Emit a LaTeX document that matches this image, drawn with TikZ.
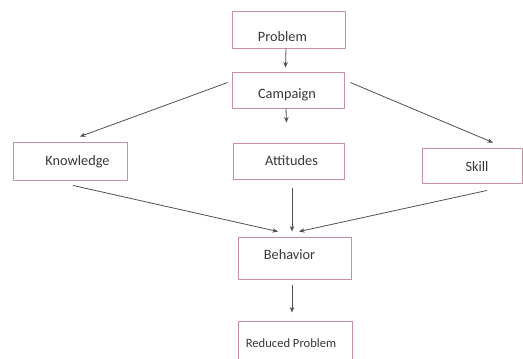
\documentclass[tikz,border=0pt]{standalone}
\usepackage{fontspec}
\setmainfont{Carlito}
\usetikzlibrary{arrows.meta,calc}
\definecolor{boxline}{RGB}{200,145,162}
\definecolor{arrowc}{RGB}{80,80,80}
\definecolor{txt}{RGB}{55,55,55}
\tikzset{
  boxnode/.style={draw=boxline, line width=0.9pt, inner sep=0pt},
  boxtext/.style={text=txt, inner sep=0pt, font=\fontsize{14.3}{16}\selectfont},
  conn/.style={draw=arrowc, line width=0.8pt, -{Stealth[length=5.5pt,width=4.5pt]}}
}
\begin{document}
\begin{tikzpicture}[x=1pt,y=-1pt]
\useasboundingbox (0,0) rectangle (523,359);
\node[boxnode, minimum width=113pt, minimum height=37pt,
  label={[boxtext,xshift=-6pt,yshift=-7pt]center:Problem}] (problem) at (288.5,29.5) {};
\node[boxnode, minimum width=112pt, minimum height=36pt,
  label={[boxtext,xshift=-1pt,yshift=-4.5pt]center:Campaign}] (campaign) at (288,90) {};
\node[boxnode, minimum width=114pt, minimum height=38pt,
  label={[boxtext,xshift=7.5pt,yshift=-1pt]center:Knowledge}] (knowledge) at (70,161) {};
\node[boxnode, minimum width=111pt, minimum height=36pt,
  label={[boxtext,xshift=3pt]center:Attitudes}] (attitudes) at (288.5,161) {};
\node[boxnode, minimum width=100pt, minimum height=35pt,
  label={[boxtext,xshift=5pt,yshift=-1.5pt]center:Skill}] (skill) at (472,165.5) {};
\node[boxnode, minimum width=113pt, minimum height=42pt,
  label={[boxtext,xshift=-5pt,yshift=3pt]center:Behavior}] (behavior) at (294.5,258) {};
\node[boxnode, minimum width=114pt, minimum height=42pt,
  label={[boxtext,font=\fontsize{12.6}{14}\selectfont,xshift=-4pt,yshift=-1pt]center:Reduced Problem}] (reduced) at (295,342) {};
\draw[conn] ([xshift=-2.5pt]problem.south) -- ([xshift=-2.5pt,yshift=4pt]campaign.north);
\draw[conn] ([xshift=-2pt]campaign.south) -- ([xshift=-2pt,yshift=20pt]attitudes.north);
\draw[conn] ($(campaign.north west)+(-4,11)$) -- ($(knowledge.north)+(10,-5)$);
\draw[conn] ($(campaign.north east)+(6,11)$) -- ($(skill.north)+(21,-5)$);
\draw[conn] ($(knowledge.south)+(3,5)$) -- ($(behavior.north)+(-16.5,-5)$);
\draw[conn] ($(attitudes.south)+(3.5,9)$) -- ($(behavior.north)+(-2.5,-5)$);
\draw[conn] ($(skill.south)+(15,7)$) -- ($(behavior.north)+(4.5,-5)$);
\draw[conn] ($(behavior.south)+(-2.5,6)$) -- ($(reduced.north)+(-3,-8)$);
\end{tikzpicture}
\end{document}
